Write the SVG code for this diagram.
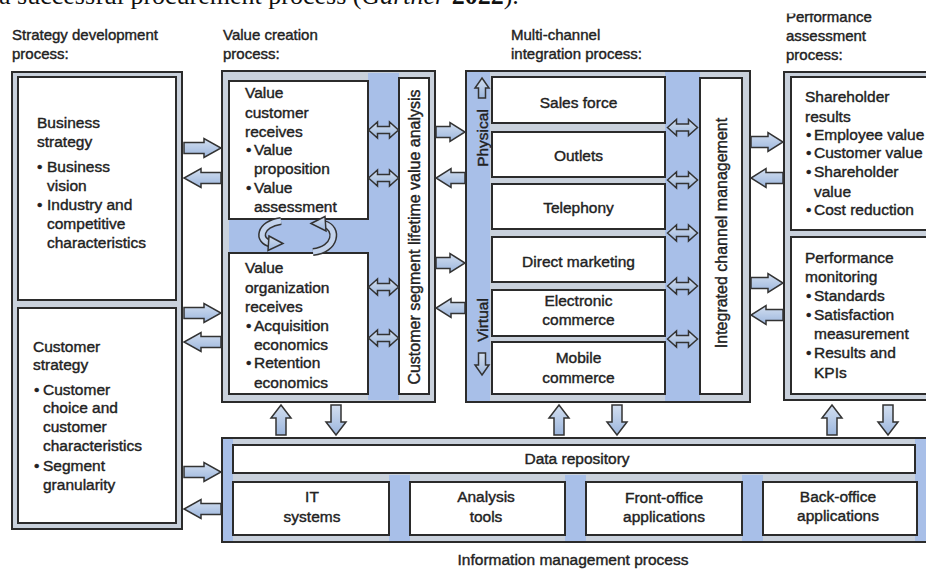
<svg xmlns="http://www.w3.org/2000/svg" width="926" height="569" viewBox="0 0 926 569">
<defs>
<linearGradient id="ag" x1="0" y1="0" x2="0" y2="1"><stop offset="0" stop-color="#d3dff0"/><stop offset="1" stop-color="#9cb6dd"/></linearGradient>
<style>
.fr{fill:#c9d1dc;stroke:#2b2b2b;stroke-width:2}
.bl{fill:#a8bfe8}
.bx{fill:#fff;stroke:#2b2b2b;stroke-width:2}
.ar{fill:url(#ag);stroke:#333;stroke-width:1.5}
.cv1{fill:none;stroke:#333;stroke-width:8}
.cv2{fill:none;stroke:#c3d3ec;stroke-width:5}
text{font-family:"Liberation Sans",Arial,sans-serif;font-size:15.5px;fill:#222;stroke:#222;stroke-width:0.4}
.h{font-size:15px}
.c{text-anchor:middle}
.v{font-size:16px;text-anchor:middle}
.cap{font-family:"Liberation Serif","Times New Roman",serif;font-size:26px;fill:#111;stroke:none}
</style>
<path id="dbl" d="M0,0 L9,-8 V-3.5 H21 V-8 L30,0 L21,8 V3.5 H9 V8 Z"/>
<path id="up" d="M0,0 L10,13 H5 V30 H-5 V13 H-10 Z"/>
<path id="dn" d="M0,30 L10,17 H5 V0 H-5 V17 H-10 Z"/>
</defs>
<rect width="926" height="569" fill="#fff"/>
<text class="cap" x="-1" y="4">a successful procurement process (<tspan font-style="italic">Gartner</tspan> <tspan font-weight="bold">2022</tspan>).</text>

<g id="headers">
<text class="h"><tspan x="12" y="40">Strategy development</tspan><tspan x="12" y="59">process:</tspan></text>
<text class="h"><tspan x="223" y="40">Value creation</tspan><tspan x="223" y="59">process:</tspan></text>
<text class="h"><tspan x="511" y="40">Multi-channel</tspan><tspan x="511" y="59">integration process:</tspan></text>
<text class="h"><tspan x="786" y="22">Performance</tspan><tspan x="786" y="41">assessment</tspan><tspan x="786" y="60">process:</tspan></text>
<rect x="770" y="0" width="156" height="13.5" fill="#fff"/>
</g>

<g id="strategy">
<rect class="fr" x="12" y="72" width="170" height="457"/>
<rect class="bx" x="18" y="77" width="158" height="223"/>
<rect class="bx" x="18" y="308" width="158" height="215"/>
<text><tspan x="37" y="128">Business</tspan><tspan x="37" y="147">strategy</tspan><tspan x="37" y="172">•</tspan><tspan x="47" y="172">Business</tspan><tspan x="47" y="191">vision</tspan><tspan x="37" y="210">•</tspan><tspan x="47" y="210">Industry and</tspan><tspan x="47" y="229">competitive</tspan><tspan x="47" y="248">characteristics</tspan></text>
<text><tspan x="33" y="352">Customer</tspan><tspan x="33" y="370">strategy</tspan><tspan x="34" y="395">•</tspan><tspan x="43" y="395">Customer</tspan><tspan x="43" y="413">choice and</tspan><tspan x="43" y="432">customer</tspan><tspan x="43" y="451">characteristics</tspan><tspan x="34" y="471">•</tspan><tspan x="43" y="471">Segment</tspan><tspan x="43" y="490">granularity</tspan></text>
</g>

<g id="value-creation">
<rect class="fr" x="222" y="71" width="213" height="331"/>
<rect class="bl" x="368" y="73" width="31" height="327"/>
<rect class="bl" x="229" y="219" width="170" height="34"/>
<rect class="bx" x="229" y="81" width="139" height="138"/>
<rect class="bx" x="229" y="253" width="139" height="141"/>
<rect class="bx" x="399" y="78" width="30" height="316"/>
<text><tspan x="245" y="98">Value</tspan><tspan x="245" y="118">customer</tspan><tspan x="245" y="137">receives</tspan><tspan x="246" y="155">•</tspan><tspan x="254" y="155">Value</tspan><tspan x="254" y="174">proposition</tspan><tspan x="246" y="193">•</tspan><tspan x="254" y="193">Value</tspan><tspan x="254" y="212">assessment</tspan></text>
<text><tspan x="245" y="273">Value</tspan><tspan x="245" y="293">organization</tspan><tspan x="245" y="312">receives</tspan><tspan x="246" y="331">•</tspan><tspan x="254" y="331">Acquisition</tspan><tspan x="254" y="350">economics</tspan><tspan x="246" y="368">•</tspan><tspan x="254" y="368">Retention</tspan><tspan x="254" y="388">economics</tspan></text>
<text class="v" transform="translate(414,237) rotate(-90)" y="5.5">Customer segment lifetime value analysis</text>
</g>

<g id="multi-channel">
<rect class="fr" x="466" y="71" width="284" height="331"/>
<rect class="bl" x="467" y="72" width="23" height="329"/>
<rect class="bl" x="665" y="72" width="35" height="329"/>
<rect class="bx" x="492" y="77" width="173" height="46"/>
<rect class="bx" x="492" y="132" width="173" height="45"/>
<rect class="bx" x="492" y="184" width="173" height="45"/>
<rect class="bx" x="492" y="237" width="173" height="45"/>
<rect class="bx" x="492" y="290" width="173" height="46"/>
<rect class="bx" x="492" y="342" width="173" height="52"/>
<rect class="bx" x="700" y="78" width="42" height="316"/>
<text class="c" x="578.5" y="108">Sales force</text>
<text class="c" x="578.5" y="161">Outlets</text>
<text class="c" x="578.5" y="213">Telephony</text>
<text class="c" x="578.5" y="267">Direct marketing</text>
<text class="c"><tspan x="578.5" y="306">Electronic</tspan><tspan x="578.5" y="325">commerce</tspan></text>
<text class="c"><tspan x="578.5" y="363">Mobile</tspan><tspan x="578.5" y="383">commerce</tspan></text>
<text class="v" transform="translate(482,138) rotate(-90)" y="5.5" style="font-size:15.5px">Physical</text>
<text class="v" transform="translate(482,320) rotate(-90)" y="5.5" style="font-size:15.5px">Virtual</text>
<text class="v" transform="translate(721,233) rotate(-90)" y="5.5">Integrated channel management</text>
<path class="ar" d="M482,78 L489,88 H485.5 V98 H478.5 V88 H475 Z"/>
<path class="ar" d="M482,375 L489,365 H485.5 V353 H478.5 V365 H475 Z"/>
</g>

<g id="performance">
<rect class="fr" x="784" y="72" width="150" height="328"/>
<rect class="bx" x="791" y="77" width="143" height="153"/>
<rect class="bx" x="791" y="237" width="143" height="157"/>
<text><tspan x="805" y="102">Shareholder</tspan><tspan x="805" y="122">results</tspan><tspan x="806" y="140">•</tspan><tspan x="814" y="140">Employee value</tspan><tspan x="806" y="158">•</tspan><tspan x="814" y="158">Customer value</tspan><tspan x="806" y="177">•</tspan><tspan x="814" y="177">Shareholder</tspan><tspan x="814" y="197">value</tspan><tspan x="806" y="215">•</tspan><tspan x="814" y="215">Cost reduction</tspan></text>
<text><tspan x="805" y="263">Performance</tspan><tspan x="805" y="282">monitoring</tspan><tspan x="806" y="301">•</tspan><tspan x="814" y="301">Standards</tspan><tspan x="806" y="320">•</tspan><tspan x="814" y="320">Satisfaction</tspan><tspan x="814" y="339">measurement</tspan><tspan x="806" y="358">•</tspan><tspan x="814" y="358">Results and</tspan><tspan x="814" y="378">KPIs</tspan></text>
</g>

<g id="information-management">
<rect class="fr" x="222" y="438" width="712" height="104"/>
<rect class="bl" x="223" y="439" width="10" height="102"/>
<rect class="bl" x="389" y="475" width="21" height="66"/>
<rect class="bl" x="565" y="475" width="21" height="66"/>
<rect class="bl" x="742" y="475" width="21" height="66"/>
<rect class="bl" x="915" y="439" width="11" height="102"/>
<rect class="bx" x="233" y="445" width="682" height="28"/>
<rect class="bx" x="233" y="482" width="156" height="53"/>
<rect class="bx" x="410" y="482" width="155" height="53"/>
<rect class="bx" x="586" y="482" width="156" height="53"/>
<rect class="bx" x="763" y="482" width="154" height="53"/>
<text class="c" x="577" y="464">Data repository</text>
<text class="c"><tspan x="312" y="502">IT</tspan><tspan x="312" y="522">systems</tspan></text>
<text class="c"><tspan x="486" y="502">Analysis</tspan><tspan x="486" y="522">tools</tspan></text>
<text class="c"><tspan x="664" y="503">Front-office</tspan><tspan x="664" y="522">applications</tspan></text>
<text class="c"><tspan x="838" y="502">Back-office</tspan><tspan x="838" y="521">applications</tspan></text>
<text class="c" x="573" y="565">Information management process</text>
</g>

<g id="connectors">
<path class="ar" d="M184,142.5 H204 V138.5 L221,148 L204,157.5 V153.5 H184 Z"/>
<path class="ar" d="M221,172.5 H201 V168.5 L184,178 L201,187.5 V183.5 H221 Z"/>
<path class="ar" d="M184,307.5 H204 V303.5 L221,313 L204,322.5 V318.5 H184 Z"/>
<path class="ar" d="M221,336.5 H201 V332.5 L184,342 L201,351.5 V347.5 H221 Z"/>
<path class="ar" d="M184,466.5 H204 V462.5 L221,472 L204,481.5 V477.5 H184 Z"/>
<path class="ar" d="M221,503.5 H201 V499.5 L184,509 L201,518.5 V514.5 H221 Z"/>

<path class="ar" d="M436,126.5 H450 V122.5 L465,132 L450,141.5 V137.5 H436 Z"/>
<path class="ar" d="M465,172.5 H451 V168.5 L436,178 L451,187.5 V183.5 H465 Z"/>
<path class="ar" d="M436,257.5 H450 V253.5 L465,263 L450,272.5 V268.5 H436 Z"/>
<path class="ar" d="M465,302.5 H451 V298.5 L436,308 L451,317.5 V313.5 H465 Z"/>

<path class="ar" d="M751,136.5 H768 V132.5 L783,142 L768,151.5 V147.5 H751 Z"/>
<path class="ar" d="M783,172.5 H766 V168.5 L751,178 L766,187.5 V183.5 H783 Z"/>
<path class="ar" d="M751,277.5 H768 V273.5 L783,283 L768,292.5 V288.5 H751 Z"/>
<path class="ar" d="M783,309.5 H766 V305.5 L751,315 L766,324.5 V320.5 H783 Z"/>

<use href="#dbl" class="ar" x="368.5" y="130"/>
<use href="#dbl" class="ar" x="368.5" y="178"/>
<use href="#dbl" class="ar" x="368.5" y="287"/>
<use href="#dbl" class="ar" x="368.5" y="338"/>

<use href="#dbl" class="ar" x="667.5" y="127.5"/>
<use href="#dbl" class="ar" x="667.5" y="180"/>
<use href="#dbl" class="ar" x="667.5" y="233"/>
<use href="#dbl" class="ar" x="667.5" y="286"/>
<use href="#dbl" class="ar" x="667.5" y="339"/>

<use href="#up" class="ar" x="281" y="405"/>
<use href="#dn" class="ar" x="336" y="405"/>
<use href="#up" class="ar" x="559" y="405"/>
<use href="#dn" class="ar" x="617" y="405"/>
<use href="#up" class="ar" x="832" y="405"/>
<use href="#dn" class="ar" x="888" y="405"/>

<path class="cv1" d="M281,221 C259,224 257,241 271,243.5"/>
<path class="cv2" d="M281,221 C259,224 257,241 271,243.5"/>
<polygon class="ar" points="269,236 283,243.5 268,250.5"/>
<path class="cv1" d="M313,252 C336,250 339,228 324,224"/>
<path class="cv2" d="M313,252 C336,250 339,228 324,224"/>
<polygon class="ar" points="311,223.5 325,216.5 326,231"/>
</g>
</svg>
